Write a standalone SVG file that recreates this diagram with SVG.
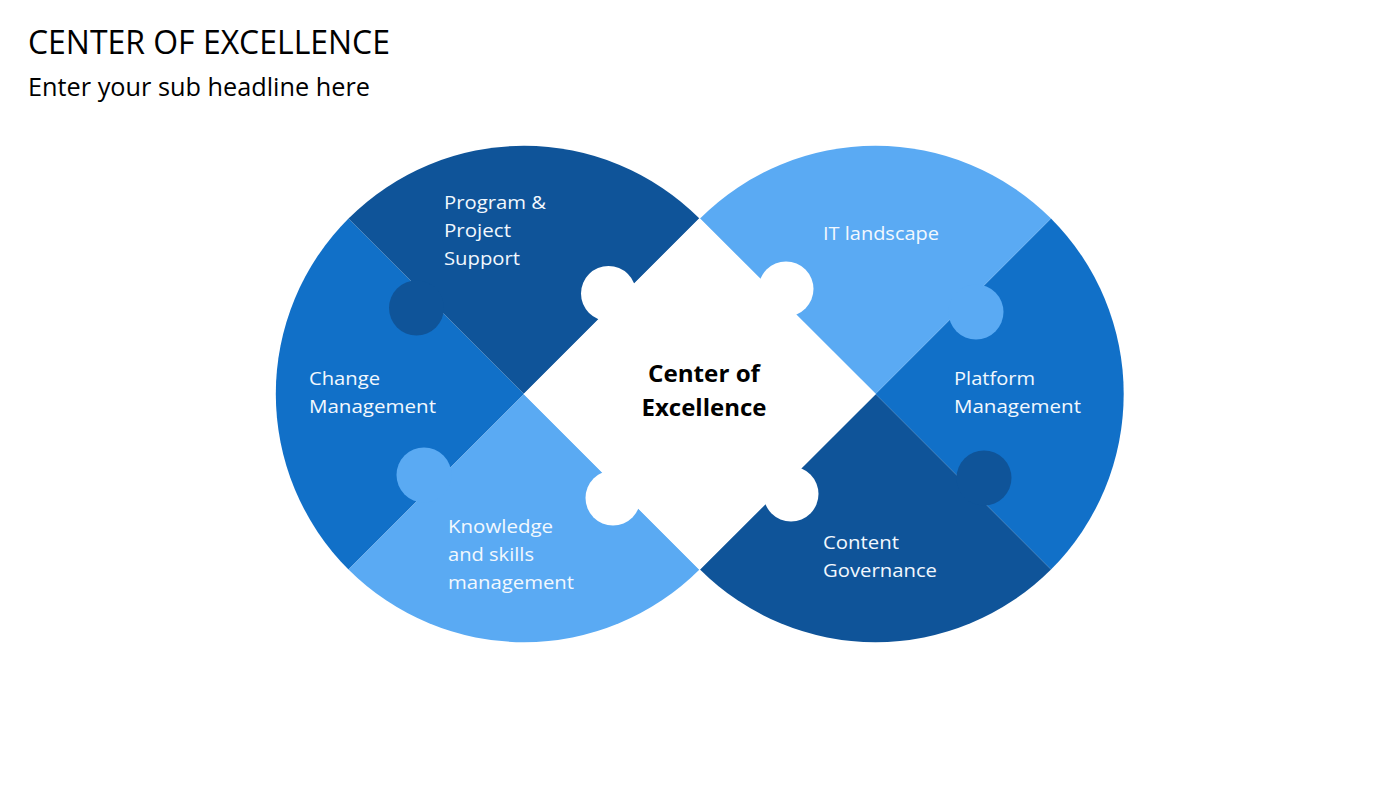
<svg xmlns="http://www.w3.org/2000/svg" width="1400" height="788" viewBox="0 0 1400 788">
<style>
text{font-family:"Open Sans","Noto Sans","Liberation Sans",sans-serif}
.l{font-size:19px;fill:#f2f8fe}
.c{font-size:24px;font-weight:700;fill:#000;text-anchor:middle}
.d{fill:#0f5499}.m{fill:#1170c8}.s{fill:#5aaaf3}.w{fill:#fff}
</style>
<rect width="1400" height="788" fill="#fff"/>
<text id="title" x="28" y="54" font-size="33" textLength="362" lengthAdjust="spacingAndGlyphs" fill="#000">CENTER OF EXCELLENCE</text>
<text id="subtitle" x="28" y="96" font-size="25" textLength="342" lengthAdjust="spacingAndGlyphs" fill="#000">Enter your sub headline here</text>
<g id="change-management">
<path class="m" d="M524 394L348.500 569.500A248.200 248.200 0 0 1 348.500 218.500Z"/>
<text class="l"><tspan x="309" y="385" textLength="71" lengthAdjust="spacingAndGlyphs">Change</tspan><tspan x="309" y="413" textLength="127" lengthAdjust="spacingAndGlyphs">Management</tspan></text>
</g>
<g id="knowledge">
<path class="s" d="M524 394L699.500 569.500A248.200 248.200 0 0 1 348.500 569.500Z"/>
<circle class="s" cx="424" cy="475" r="27.500"/>
<text class="l"><tspan x="448" y="533" textLength="105" lengthAdjust="spacingAndGlyphs">Knowledge</tspan><tspan x="448" y="561" textLength="86" lengthAdjust="spacingAndGlyphs">and skills</tspan><tspan x="448" y="589" textLength="126" lengthAdjust="spacingAndGlyphs">management</tspan></text>
</g>
<g id="program-project">
<path class="d" d="M524 394L348.500 218.500A248.200 248.200 0 0 1 699.500 218.500Z"/>
<circle class="d" cx="416.500" cy="308" r="27.500"/>
<text class="l"><tspan x="444" y="209" textLength="102" lengthAdjust="spacingAndGlyphs">Program &amp;</tspan><tspan x="444" y="237" textLength="67" lengthAdjust="spacingAndGlyphs">Project</tspan><tspan x="444" y="265" textLength="76" lengthAdjust="spacingAndGlyphs">Support</tspan></text>
</g>
<g id="platform-management">
<path class="m" d="M875.500 394L1051 218.500A248.200 248.200 0 0 1 1051 569.500Z"/>
<text class="l"><tspan x="954" y="385" textLength="81" lengthAdjust="spacingAndGlyphs">Platform</tspan><tspan x="954" y="413" textLength="127" lengthAdjust="spacingAndGlyphs">Management</tspan></text>
</g>
<g id="it-landscape">
<path class="s" d="M875.500 394L700 218.500A248.200 248.200 0 0 1 1051 218.500Z"/>
<circle class="s" cx="976" cy="312" r="27.500"/>
<text class="l" x="823" y="240" textLength="116" lengthAdjust="spacingAndGlyphs">IT landscape</text>
</g>
<g id="content-governance">
<path class="d" d="M875.500 394L1051 569.500A248.200 248.200 0 0 1 700 569.500Z"/>
<circle class="d" cx="984" cy="478" r="27.500"/>
<text class="l"><tspan x="823" y="549" textLength="76" lengthAdjust="spacingAndGlyphs">Content</tspan><tspan x="823" y="577" textLength="114" lengthAdjust="spacingAndGlyphs">Governance</tspan></text>
</g>
<g id="center">
<path class="w" d="M699.500 218L876 394L699.500 570L523.500 394Z"/>
<circle class="w" cx="608.500" cy="293.500" r="27.500"/>
<circle class="w" cx="786" cy="289" r="27.500"/>
<circle class="w" cx="613" cy="498" r="27.500"/>
<circle class="w" cx="791" cy="494" r="27.500"/>
<text class="c"><tspan x="704" y="382" textLength="112" lengthAdjust="spacingAndGlyphs">Center of</tspan><tspan x="704" y="416" textLength="125" lengthAdjust="spacingAndGlyphs">Excellence</tspan></text>
</g>
</svg>
